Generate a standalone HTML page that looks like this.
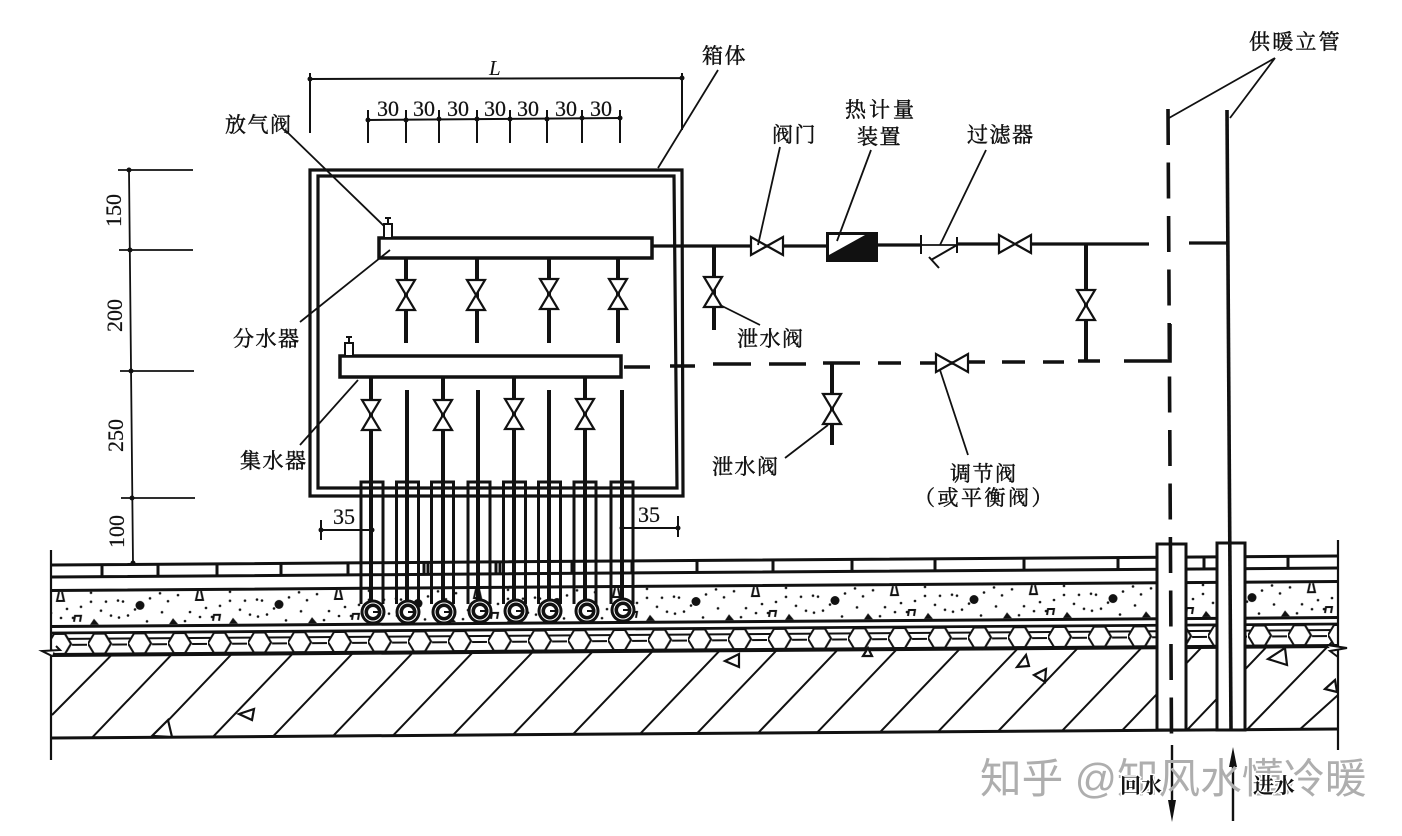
<!DOCTYPE html>
<html lang="zh">
<head>
<meta charset="utf-8">
<style>
html,body{margin:0;padding:0;background:#fff;width:1402px;height:836px;overflow:hidden}
svg{display:block}
text{font-family:"Liberation Serif","Noto Serif CJK SC",serif;fill:#111}
.l{font-size:21px;letter-spacing:1.5px;stroke:#111;stroke-width:.45px}
.n{font-size:22px;font-family:"Liberation Serif",serif;stroke:#111;stroke-width:.2px}
.wm{font-family:"Liberation Sans","Noto Sans CJK SC",sans-serif;font-size:41.6px;fill:#aeaeae}
.h{font-size:21px;stroke:#fff;stroke-width:3px;paint-order:stroke;font-weight:bold}
</style>
</head>
<body>
<svg width="1402" height="836" viewBox="0 0 1402 836" xmlns="http://www.w3.org/2000/svg">
<defs>
<g id="vv"><polygon points="-9,-15 9,-15 -9,15 9,15" fill="#fff" stroke="#111" stroke-width="2.2"/></g>
<g id="vh"><polygon points="-16,-9 -16,9 16,-9 16,9" fill="#fff" stroke="#111" stroke-width="2.2"/></g>
<g id="tube">
<path d="M-11 604V482H11V604" fill="none" stroke="#111" stroke-width="3"/>
</g>
<g id="coil">
<circle r="12.5" fill="#111"/>
<circle r="9" fill="none" stroke="#fff" stroke-width="1"/>
<circle r="5" fill="#fff"/>
<rect x="0" y="-1" width="6" height="2" fill="#111"/>
</g>
<pattern id="hex" x="88" y="633" width="40" height="22" patternUnits="userSpaceOnUse">
<path d="M0 11L6 1H17L23 11L17 21H6Z M20 6H40 M0 6H3 M24 12H39" fill="none" stroke="#111" stroke-width="2"/>
<path d="M17 21L23 11M23 11L17 1" fill="none" stroke="#111" stroke-width="2"/>
</pattern>
<pattern id="conc" x="130" y="590" width="139" height="36" patternUnits="userSpaceOnUse">
<g fill="#111">
<circle cx="20" cy="9" r="1.3"/><circle cx="30" cy="4" r="1.3"/><circle cx="38" cy="12" r="1.3"/><circle cx="48" cy="6" r="1.3"/>
<circle cx="32" cy="23" r="1.3"/><circle cx="60" cy="23" r="1.3"/><circle cx="70" cy="28" r="1.3"/><circle cx="82" cy="28" r="1.3"/>
<circle cx="90" cy="17" r="1.3"/><circle cx="100" cy="3" r="1.3"/><circle cx="100" cy="12" r="1.3"/><circle cx="115" cy="12" r="1.3"/>
<circle cx="127" cy="11" r="1.3"/><circle cx="132" cy="12" r="1.3"/><circle cx="120" cy="26" r="1.3"/><circle cx="128" cy="28" r="1.3"/>
<circle cx="137" cy="26" r="1.3"/><circle cx="17" cy="32" r="1.3"/><circle cx="55" cy="32" r="1.3"/><circle cx="5" cy="20" r="1.3"/>
<circle cx="110" cy="21" r="1.3"/><circle cx="76" cy="19" r="1.3"/>
<circle cx="10" cy="16" r="4.5"/>
<path d="M99 35l4 -6 5 6z"/><path d="M39 35l4 -6 5 6z"/>
</g>
<g fill="none" stroke="#111" stroke-width="2">
<path d="M68 2l-2 9h7l-2 -9"/>
<path d="M83 32l1 -6h6l-1 6"/>
</g>
</pattern>
</defs>

<!-- floor construction (slightly tilted) -->
<g transform="matrix(1,-0.007,0,1,0,0.36)">
<rect x="52" y="591" width="1286" height="35" fill="url(#conc)"/>
<rect x="52" y="633" width="1286" height="22" fill="url(#hex)"/>
<g stroke="#111" fill="none">
<path d="M52 565H1338M52 577H1338M52 590.500H1338" stroke-width="3"/>
<path d="M52 626.500H1338" stroke-width="3"/>
<path d="M52 633H1338" stroke-width="2.800"/>
<path d="M52 655H1338" stroke-width="4"/>
<path d="M52 738H1338" stroke-width="3"/>
<path d="M102 565v12M158 565v12M217 565v12M281 565v12M348 565v12M424 565v12M428 565v12M496 565v12M500 565v12M572 565v12M632 565v12M697 565v12M773 565v12M852 565v12M935 565v12M1024 565v12M1118 565v12M1204 565v12M1288 565v12" stroke-width="3"/>
<path d="M52 715l60 -60M92 738l80 -83M152 738l80 -83M213 738l80 -83M273 738l80 -83M333 738l80 -83M393 738l80 -83M453 738l80 -83M513 738l80 -83M573 738l80 -83M640 738l80 -83M697 738l80 -83M758 738l80 -83M817 738l80 -83M880 738l80 -83M938 738l80 -83M998 738l80 -83M1062 738l80 -83M1122 738l80 -83M1187 738l80 -83M1247 738l85 -87M1300 738l38 -34" stroke-width="2"/>
</g>
</g>
<path d="M239 714L254 709 252 720ZM152 736L168 720 172 737ZM725 661L739 654 739 667ZM868 648L872 656 863 656ZM1017 667L1026 655 1029 666ZM1034 675L1046 669 1045 682ZM1268 659L1285 648 1287 665ZM1325 689L1335 680 1337 692Z" fill="#fff" stroke="#111" stroke-width="2.200"/>
<path d="M51 550V760M1338 540V750" stroke="#111" stroke-width="2.200" fill="none"/>
<path d="M56 646L60 650 42 651 52 656M1327 645L1347 648 1330 651 1338 657" stroke="#111" stroke-width="2" fill="#fff"/>

<!-- sleeves -->
<g fill="#fff" stroke="#111" stroke-width="3">
<rect x="1157" y="544" width="29" height="186"/>
<rect x="1217" y="543" width="28" height="187"/>
</g>

<!-- risers -->
<path d="M1168 109L1171.500 738" stroke="#111" stroke-width="3.600" stroke-dasharray="36 17.500" fill="none"/>
<path d="M1227 110L1231 730" stroke="#111" stroke-width="3.600" fill="none"/>
<path d="M1172 745V805M1233 760V821" stroke="#111" stroke-width="2.400" fill="none"/>
<polygon points="1168,800 1176,800 1172,822" fill="#111"/>
<polygon points="1229,767 1237,767 1233,747" fill="#111"/>

<!-- cabinet -->
<path d="M310 496V170H682L683 496Z" fill="none" stroke="#111" stroke-width="3.200"/>
<path d="M318 488V176H674L677 488Z" fill="none" stroke="#111" stroke-width="3.200"/>

<!-- dimensions -->
<g stroke="#111" fill="none">
<path d="M310 79L682 78M310 73V133M682 73V130" stroke-width="2"/>
<path d="M368 120L621 118" stroke-width="2"/>
<path d="M368 110V143M406 110V143M439 110V143M477 110V143M510 110V143M547 110V143M582 110V143M620 110V143" stroke-width="2"/>
<path d="M321 520V540M320 530H372M678 516V537M622 528H678" stroke-width="2"/>
<path d="M118 170H193M119 250H193M120 371H194M121 498H195M129 170L133 563" stroke-width="1.800"/>
</g>
<g fill="#111">
<circle cx="310" cy="79" r="2.500"/><circle cx="682" cy="78" r="2.500"/>
<circle cx="368" cy="120" r="2.500"/><circle cx="406" cy="120" r="2.500"/><circle cx="439" cy="119" r="2.500"/><circle cx="477" cy="119" r="2.500"/>
<circle cx="510" cy="119" r="2.500"/><circle cx="547" cy="119" r="2.500"/><circle cx="582" cy="118" r="2.500"/><circle cx="620" cy="118" r="2.500"/>
<circle cx="321" cy="530" r="2.500"/><circle cx="372" cy="530" r="2.500"/><circle cx="622" cy="528" r="2.500"/><circle cx="678" cy="528" r="2.500"/>
<circle cx="129" cy="170" r="2.500"/><circle cx="130" cy="250" r="2.500"/><circle cx="131" cy="371" r="2.500"/><circle cx="132" cy="498" r="2.500"/><circle cx="133" cy="563" r="2.500"/>
</g>

<!-- manifold outlets -->
<g stroke="#111" stroke-width="4" fill="none">
<path d="M406 258V343M477 258V343M549 258V343M618 258V343"/>
<path d="M371 377V602M443 377V602M514 377V602M585 377V602"/>
<path d="M407 390V602M478 390V602M549 390V602M622 390V602"/>
</g>
<use href="#vv" x="406" y="295"/><use href="#vv" x="476" y="295"/>
<use href="#vv" x="549" y="294"/><use href="#vv" x="618" y="294"/>
<use href="#vv" x="371" y="415"/><use href="#vv" x="443" y="415"/>
<use href="#vv" x="514" y="414"/><use href="#vv" x="585" y="414"/>

<!-- manifolds -->
<rect x="379" y="238" width="273" height="20" fill="#fff" stroke="#111" stroke-width="3.500"/>
<rect x="340" y="356" width="281" height="21" fill="#fff" stroke="#111" stroke-width="3.500"/>
<rect x="384" y="224" width="8" height="14" fill="#fff" stroke="#111" stroke-width="2"/>
<path d="M385 218h6M388 218v6" stroke="#111" stroke-width="2"/>
<rect x="345" y="343" width="8" height="13" fill="#fff" stroke="#111" stroke-width="2"/>
<path d="M346 337h6M349 337v6" stroke="#111" stroke-width="2"/>

<!-- U tubes -->
<use href="#tube" x="372"/><use href="#tube" x="407.5"/><use href="#tube" x="442.5"/><use href="#tube" x="479"/>
<use href="#tube" x="514.5"/><use href="#tube" x="549.5"/><use href="#tube" x="585"/><use href="#tube" x="622"/>
<use href="#coil" x="373" y="612"/><use href="#coil" x="408" y="612"/><use href="#coil" x="444" y="612"/><use href="#coil" x="480" y="611"/>
<use href="#coil" x="516" y="611"/><use href="#coil" x="550" y="611"/><use href="#coil" x="587" y="611"/><use href="#coil" x="623" y="610"/>

<!-- supply pipe -->
<g stroke="#111" fill="none">
<path d="M652 246H826M878 245H921M957 244H1000M1032 244H1149M1189 243H1228" stroke-width="3.200"/>
<path d="M921 245H957" stroke-width="1.800"/>
<path d="M921 235V254M957 237V253M957 245L931 260M929 257L939 268" stroke-width="2"/>
<path d="M714 246V330M1086 244V362M832 363V445" stroke-width="4"/>
<path d="M1124 361H1170V324" stroke-width="3.600"/>
<path d="M624 367H650M670 366H695M713 364H751M769 364H806M823 363H860M878 363H901M920 363H968M968 362H985M1002 362H1025M1043 362H1064M1078 361H1100" stroke-width="3.600"/>
</g>
<use href="#vh" x="767" y="246"/>
<use href="#vh" x="1015" y="244"/>
<use href="#vh" x="952" y="363"/>
<use href="#vv" x="713" y="292"/>
<use href="#vv" x="1086" y="305"/>
<use href="#vv" x="832" y="409"/>

<!-- heat meter -->
<rect x="826" y="232" width="52" height="30" fill="#111"/>
<polygon points="829,235 865,235 829,255" fill="#fff"/>

<!-- leaders -->
<g stroke="#111" stroke-width="1.800" fill="none">
<path d="M718 70L658 168M285 130L384 226M300 322L390 250M300 445L358 380"/>
<path d="M780 147L758 245M871 150L837 241M986 150L940 245"/>
<path d="M760 325L720 305M785 458L828 425M968 455L940 370"/>
<path d="M1275 58L1169 118M1275 58L1230 118"/>
</g>

<!-- labels -->
<text class="l" x="702" y="63">箱体</text>
<text class="l" x="225" y="132">放气阀</text>
<text class="l" x="233" y="346">分水器</text>
<text class="l" x="240" y="468">集水器</text>
<text class="l" x="772" y="142">阀门</text>
<text class="l" x="845" y="117" style="letter-spacing:3px">热计量</text>
<text class="l" x="857" y="144">装置</text>
<text class="l" x="967" y="142">过滤器</text>
<text class="l" x="737" y="346">泄水阀</text>
<text class="l" x="712" y="474">泄水阀</text>
<text class="l" x="950" y="481">调节阀</text>
<text class="l" x="914" y="505" style="letter-spacing:2.500px">（或平衡阀）</text>
<text class="l" x="1249" y="49" style="letter-spacing:2.200px">供暖立管</text>
<text x="489" y="75" font-size="21" font-style="italic">L</text>

<g>
<text class="n" x="377" y="116">30</text><text class="n" x="413" y="116">30</text>
<text class="n" x="447" y="116">30</text><text class="n" x="484" y="116">30</text>
<text class="n" x="517" y="116">30</text><text class="n" x="555" y="116">30</text>
<text class="n" x="590" y="116">30</text>
<text class="n" x="333" y="524">35</text>
<text class="n" x="638" y="522">35</text>
<text class="n" transform="translate(121,227) rotate(-90)">150</text>
<text class="n" transform="translate(122,332) rotate(-90)">200</text>
<text class="n" transform="translate(123,452) rotate(-90)">250</text>
<text class="n" transform="translate(124,548) rotate(-90)">100</text>
</g>

<!-- watermark -->
<text class="wm" x="980" y="793">知乎 @知风水懂冷暖</text>
<text class="h" x="1120" y="793">回水</text>
<text class="h" x="1253" y="793">进水</text>
</svg>
</body>
</html>
